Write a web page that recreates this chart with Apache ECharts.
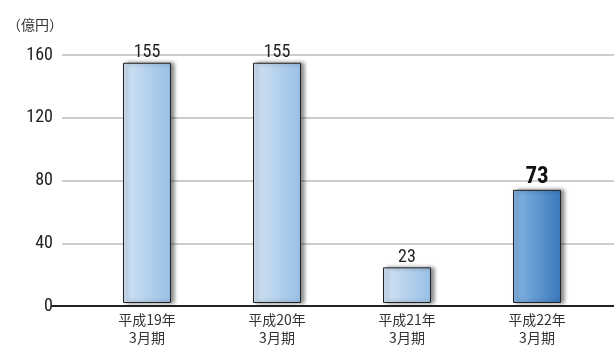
<!DOCTYPE html>
<html><head><meta charset="utf-8">
<script src="https://cdn.jsdelivr.net/npm/echarts@6/dist/echarts.min.js"></script>
<style>html,body{margin:0;padding:0;background:#fff}#c{width:614px;height:347px}</style>
</head><body><div id="c"></div>
<script>
const categories = ['平成19年\n3月期', '平成20年\n3月期', '平成21年\n3月期', '平成22年\n3月期'];
const values = [155, 155, 23, 73];
const yTicks = { min: 0, max: 160, interval: 40 };
const unitLabel = '（億円）';
const highlightIndex = 3;

const NUM_FONT = "'Liberation Sans Narrow', 'Roboto Condensed', Roboto, sans-serif";
const CJK_FONT = "'Noto Sans CJK JP', sans-serif";

const normalGrad = new echarts.graphic.LinearGradient(0, 0, 1, 0, [
  { offset: 0, color: '#d3e3f4' }, { offset: 1, color: '#98c0e6' }]);
const hiGrad = new echarts.graphic.LinearGradient(0, 0, 1, 0, [
  { offset: 0, color: '#86b6e4' }, { offset: 1, color: '#3a78bd' }]);

const chart = echarts.init(document.getElementById('c'), null, { renderer: 'canvas' });
chart.setOption({
  animation: false,
  grid: [
    { left: 62, right: 0, top: 55, bottom: 41 },
    { left: 52, right: 0, top: 55, bottom: 41 },
    { left: 82, right: 12, top: 55, bottom: 41 }
  ],
  title: { text: unitLabel, left: 2, top: 13, textStyle: { fontFamily: CJK_FONT, fontSize: 14, fontWeight: 'normal', color: '#333' } },
  xAxis: [
    { gridIndex: 0, type: 'value', min: 0, max: 1, show: false },
    { gridIndex: 1, type: 'value', min: 0, max: 1, z: 10, axisLine: { show: true, lineStyle: { color: '#222', width: 2 } },
      axisTick: { show: false }, axisLabel: { show: false }, splitLine: { show: false } },
    { gridIndex: 2, type: 'category', data: categories, axisLine: { show: false }, axisTick: { show: false },
      axisLabel: { margin: 8, fontFamily: CJK_FONT, fontSize: 14, lineHeight: 18, color: '#333' } }
  ],
  yAxis: [
    { gridIndex: 0, type: 'value', min: yTicks.min, max: yTicks.max, interval: yTicks.interval,
      axisLine: { show: false }, axisTick: { show: false },
      axisLabel: { margin: 9, fontFamily: NUM_FONT, fontSize: 18, color: '#222' },
      splitLine: { lineStyle: { color: '#bdbdbd', width: 1.5 } } },
    { gridIndex: 1, type: 'value', min: yTicks.min, max: yTicks.max, show: false },
    { gridIndex: 2, type: 'value', min: yTicks.min, max: yTicks.max, show: false }
  ],
  series: [{
    type: 'bar', xAxisIndex: 2, yAxisIndex: 2, barWidth: 48,
    data: values.map((v, i) => ({
      value: v,
      itemStyle: { color: i === highlightIndex ? hiGrad : normalGrad },
      label: i === highlightIndex ? { fontSize: 23, fontWeight: 'bold', color: '#111' } : {}
    })),
    itemStyle: { borderColor: '#222', borderWidth: 1, shadowColor: 'rgba(0,0,0,0.45)', shadowBlur: 4, shadowOffsetX: 3, shadowOffsetY: 0 },
    label: { show: true, position: 'top', distance: 1, fontFamily: NUM_FONT, fontSize: 18, color: '#222' }
  }]
});
</script></body></html>
